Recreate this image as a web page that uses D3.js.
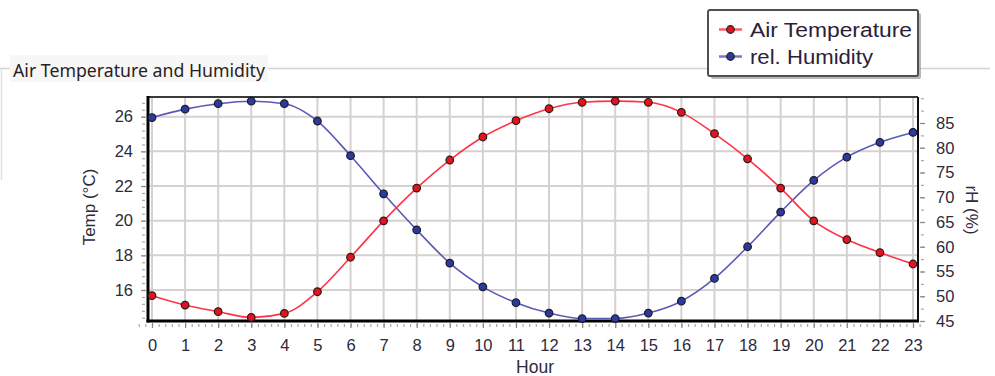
<!DOCTYPE html>
<html><head><meta charset="utf-8">
<script src="https://cdn.jsdelivr.net/npm/d3@7/dist/d3.min.js"></script>
<style>
html,body{margin:0;padding:0;background:#fff;}
svg{display:block;font-family:"Liberation Sans",Arial,sans-serif;}
</style></head>
<body>
<svg id="chart" width="995" height="376"></svg>
<script>
const hours = [0,1,2,3,4,5,6,7,8,9,10,11,12,13,14,15,16,17,18,19,20,21,22,23];
const airTemp = [15.67,15.13,14.75,14.42,14.65,15.9,17.89,19.99,21.88,23.5,24.83,25.77,26.46,26.83,26.9,26.83,26.25,25.02,23.57,21.88,19.99,18.91,18.16,17.5];
const relHumidity = [86.1,87.8,88.9,89.4,88.9,85.4,78.4,70.7,63.4,56.7,51.9,48.7,46.6,45.5,45.5,46.6,49.0,53.6,60.0,67.0,73.4,78.1,81.1,83.1];
const tempTicks = [16,18,20,22,24,26];
const rhTicks = [45,50,55,60,65,70,75,80,85];
const seriesNames = ["Air Temperature","rel. Humidity"];
const titleText = "Air Temperature and Humidity";
const xTitle = "Hour", yLeftTitle = "Temp (°C)", yRightTitle = "rH (%)";

const svg = d3.select("#chart");
const L = 148, R = 918, T = 97, B = 321;

const x = d3.scaleLinear().domain([0,23]).range([152,913]);
const yL = d3.scaleLinear().domain([16,26]).range([290,116.7]);
const yR = d3.scaleLinear().domain([45,85]).range([321,123]);

const tempColor = "#ff3347", tempFill = "#e4121f";
const humColor = "#5a5ab4", humFill = "#2c3a9c";

// header separator line and title
svg.append("line").attr("x1",0).attr("x2",990).attr("y1",68.5).attr("y2",68.5)
  .attr("stroke","#d4d4d4").attr("stroke-width",1.5);
svg.append("line").attr("x1",1.5).attr("x2",1.5).attr("y1",68).attr("y2",180)
  .attr("stroke","#e2e2e2").attr("stroke-width",1.5);
svg.append("rect").attr("x",10).attr("y",55).attr("width",258).attr("height",27).attr("fill","#f7f7f7");
svg.append("text").attr("x",13).attr("y",76.5).text(titleText)
  .style("font-family","'Noto Sans','Open Sans',sans-serif").style("font-size","17.5px").attr("fill","#2a1e22")
  .attr("textLength",252).attr("lengthAdjust","spacingAndGlyphs");

// plot background
svg.append("rect").attr("x",L).attr("y",T).attr("width",R-L).attr("height",B-T).attr("fill","#fff");

// grid
const grid = svg.append("g");
grid.selectAll(".vg").data(hours).join("line")
  .attr("x1",d=>x(d)).attr("x2",d=>x(d)).attr("y1",T).attr("y2",B)
  .attr("stroke","#d6d0d0").attr("stroke-width",2);
grid.selectAll(".hg").data(tempTicks).join("line")
  .attr("x1",L).attr("x2",R).attr("y1",d=>yL(d)).attr("y2",d=>yL(d))
  .attr("stroke","#d6d0d0").attr("stroke-width",2);

// minor ticks
const minorStyle = g => { g.select(".domain").remove(); g.selectAll("line").attr("stroke","#a8a8a8").attr("stroke-width",1.2); g.selectAll("text").remove(); };
svg.append("g").attr("transform",`translate(${L-3},0)`)
  .call(d3.axisLeft(yL).tickValues(d3.range(14.4,27.2,0.4)).tickSize(3)).call(minorStyle);
svg.append("g").attr("transform",`translate(0,${B+3})`)
  .call(d3.axisBottom(x).tickValues(d3.range(-0.4,23.3,0.2)).tickSize(3)).call(minorStyle);
svg.append("g").attr("transform",`translate(${R+3},0)`)
  .call(d3.axisRight(yR).tickValues(d3.range(45,90.1,2.5)).tickSize(3)).call(minorStyle);

// major axes
const axStyle = g => { g.select(".domain").remove(); g.selectAll("line").attr("stroke","#8a8a8a").attr("stroke-width",1.2);
  g.selectAll("text").attr("fill","#2e2a3a").style("font-size","16.5px").style("font-family","'Liberation Sans',Arial,sans-serif"); };
svg.append("g").attr("transform",`translate(${L-2},0)`)
  .call(d3.axisLeft(yL).tickValues(tempTicks).tickSize(5).tickPadding(8)).call(axStyle);
svg.append("g").attr("transform",`translate(0,${B+2})`)
  .call(d3.axisBottom(x).tickValues(hours).tickSize(5).tickPadding(11).tickFormat(d3.format("d"))).call(axStyle);
svg.append("g").attr("transform",`translate(${R+2},0)`)
  .call(d3.axisRight(yR).tickValues(rhTicks).tickSize(5).tickPadding(11)).call(axStyle);

// frame
svg.append("line").attr("x1",L).attr("x2",R).attr("y1",T).attr("y2",T).attr("stroke","#3a3a3a").attr("stroke-width",2);
svg.append("line").attr("x1",R).attr("x2",R).attr("y1",T).attr("y2",B).attr("stroke","#111").attr("stroke-width",2);
svg.append("line").attr("x1",L).attr("x2",L).attr("y1",T-1).attr("y2",B+1.5).attr("stroke","#000").attr("stroke-width",3);
svg.append("line").attr("x1",L-1.5).attr("x2",R+1).attr("y1",B).attr("y2",B).attr("stroke","#000").attr("stroke-width",3);

// axis titles
svg.append("text").attr("transform",`translate(535,373)`).attr("text-anchor","middle")
  .style("font-size","17.5px").attr("fill","#2e2a3a").text(xTitle);
svg.append("text").attr("transform","translate(95,207) rotate(-90)").attr("text-anchor","middle")
  .style("font-size","17px").attr("fill","#2e2a3a").text(yLeftTitle);
svg.append("text").attr("transform","translate(966,210) rotate(90)").attr("text-anchor","middle")
  .style("font-size","17px").attr("fill","#2e2a3a").text(yRightTitle);

// series
const lineL = d3.line().x((d,i)=>x(hours[i])).y(d=>yL(d)).curve(d3.curveMonotoneX);
const lineR = d3.line().x((d,i)=>x(hours[i])).y(d=>yR(d)).curve(d3.curveMonotoneX);
svg.append("path").datum(relHumidity).attr("d",lineR).attr("fill","none").attr("stroke",humColor).attr("stroke-width",1.6);
svg.append("path").datum(airTemp).attr("d",lineL).attr("fill","none").attr("stroke",tempColor).attr("stroke-width",1.6);
svg.append("g").selectAll("circle").data(relHumidity).join("circle")
  .attr("cx",(d,i)=>x(hours[i])).attr("cy",d=>yR(d)).attr("r",3.8)
  .attr("fill",humFill).attr("stroke","#1a1a2a").attr("stroke-width",1.2);
svg.append("g").selectAll("circle").data(airTemp).join("circle")
  .attr("cx",(d,i)=>x(hours[i])).attr("cy",d=>yL(d)).attr("r",3.8)
  .attr("fill",tempFill).attr("stroke","#2a1a1a").attr("stroke-width",1.2);

// legend
const lg = svg.append("g");
lg.append("rect").attr("x",711).attr("y",13).attr("width",210).attr("height",66).attr("rx",2).attr("fill","#9a9a9a").attr("opacity",0.7);
lg.append("rect").attr("x",708).attr("y",10).attr("width",210).attr("height",66).attr("rx",2).attr("fill","#fff").attr("stroke","#505050").attr("stroke-width",2);
const items = [{name:seriesNames[0],c:tempColor,f:tempFill,y:29.5,w:162},{name:seriesNames[1],c:humColor,f:humFill,y:56.5,w:123}];
items.forEach(it=>{
  lg.append("line").attr("x1",719).attr("x2",742).attr("y1",it.y).attr("y2",it.y).attr("stroke",it.c).attr("stroke-width",2.5).attr("opacity",0.8);
  lg.append("circle").attr("cx",730.5).attr("cy",it.y).attr("r",3.8).attr("fill",it.f).attr("stroke","#222").attr("stroke-width",1.2);
  lg.append("text").attr("x",750).attr("y",it.y+7).style("font-size","19.5px").attr("fill","#2a2238")
    .attr("textLength",it.w).attr("lengthAdjust","spacingAndGlyphs").text(it.name);
});
</script>
</body></html>
